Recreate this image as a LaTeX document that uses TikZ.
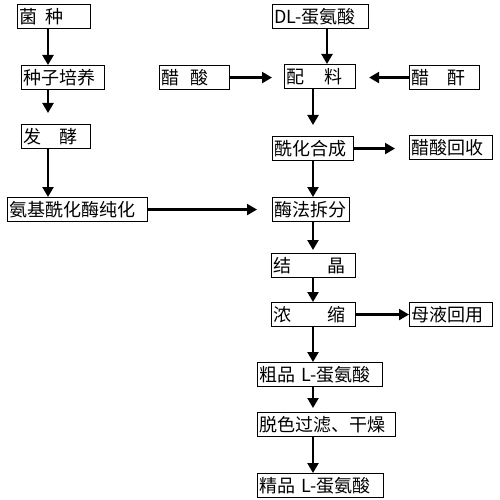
\documentclass[tikz,border=0pt]{standalone}
\usepackage{fontspec}
\newfontfamily\cjk{Noto Sans CJK SC}
\usetikzlibrary{arrows.meta}

\tikzset{
	box/.style={draw, line width=1.1pt, anchor=north west, font=\cjk\fontsize{18pt}{20pt}\selectfont,
		inner xsep=2pt, inner ysep=0pt, minimum height=24pt, align=left, text width=#1},
	flow/.style={line width=2.2pt, -{Triangle[length=10pt,width=11pt]}}
}

\begin{document}
\begin{tikzpicture}[x=1pt,y=-1pt]
		\useasboundingbox (0,0) rectangle (500,500);
		\coordinate (lc) at (48,0);
		\coordinate (rc) at (313,0);
		\coordinate (dc) at (327,0);

		\node[box=69pt] (jz) at (17,4) {菌\hspace{.45em}种};
		\node[box=79pt] (zzpy) at (21,65) {种子培养};
		\node[box=65pt] (fj) at (21,124) {发\hspace{1em}酵};
		\node[box=136pt] (ajm) at (7,197) {氨基酰化酶纯化};
		\node[box=66pt] (cs) at (159,65) {醋\hspace{.6em}酸};

		\node[box=92pt] (dl) at (272,4) {DL-蛋氨酸};
		\node[box=67pt] (pl) at (284,64) {配\hspace{1.1em}料};
		\node[box=66pt] (cg) at (409,65) {醋\hspace{1em}酐};
		\node[box=77pt] (xh) at (272,136) {酰化合成};
		\node[box=79pt] (cshs) at (409,135) {醋酸回收};
		\node[box=73pt] (mf) at (272,197) {酶法拆分};
		\node[box=80pt] (jj) at (271,253) {结\hspace{2em}晶};
		\node[box=80pt] (ns) at (271,302) {浓\hspace{2em}缩};
		\node[box=79pt] (myhy) at (409,302) {母液回用};
		\node[box=121pt] (cp) at (257,362) {粗品 L-蛋氨酸};
		\node[box=134pt] (tc) at (257,412) {脱色过滤、干燥};
		\node[box=122pt] (jp) at (257,473) {精品 L-蛋氨酸};

		\draw[flow] (jz.south -| lc) -- (zzpy.north -| lc);
		\draw[flow, shorten >=11pt] (zzpy.south -| lc) -- (fj.north -| lc);
		\draw[flow] (fj.south -| lc) -- (ajm.north -| lc);
		\draw[flow, shorten >=15pt] (ajm.east) -- (ajm.east -| mf.west);

		\draw[flow, shorten >=12pt] (cs.east) -- (cs.east -| pl.west);
		\draw[flow] (dl.south -| dc) -- (pl.north -| dc);
		\draw[flow, shorten >=13pt] (cg.west) -- (cg.west -| pl.east);
		\draw[flow, shorten >=11pt] (pl.south -| rc) -- (xh.north -| rc);
		\draw[flow, shorten >=14pt] (xh.east) -- (xh.east -| cshs.west);
		\draw[flow] (xh.south -| rc) -- (mf.north -| rc);
		\draw[flow, shorten >=3pt] (mf.south -| rc) -- (jj.north -| rc);
		\draw[flow] (jj.south -| rc) -- (ns.north -| rc);
		\draw[flow] (ns.east) -- (ns.east -| myhy.west);
		\draw[flow] (ns.south -| rc) -- (cp.north -| rc);
		\draw[flow, shorten >=4pt] (cp.south -| rc) -- (tc.north -| rc);
		\draw[flow] (tc.south -| rc) -- (jp.north -| rc);
	\end{tikzpicture}
\end{document}
